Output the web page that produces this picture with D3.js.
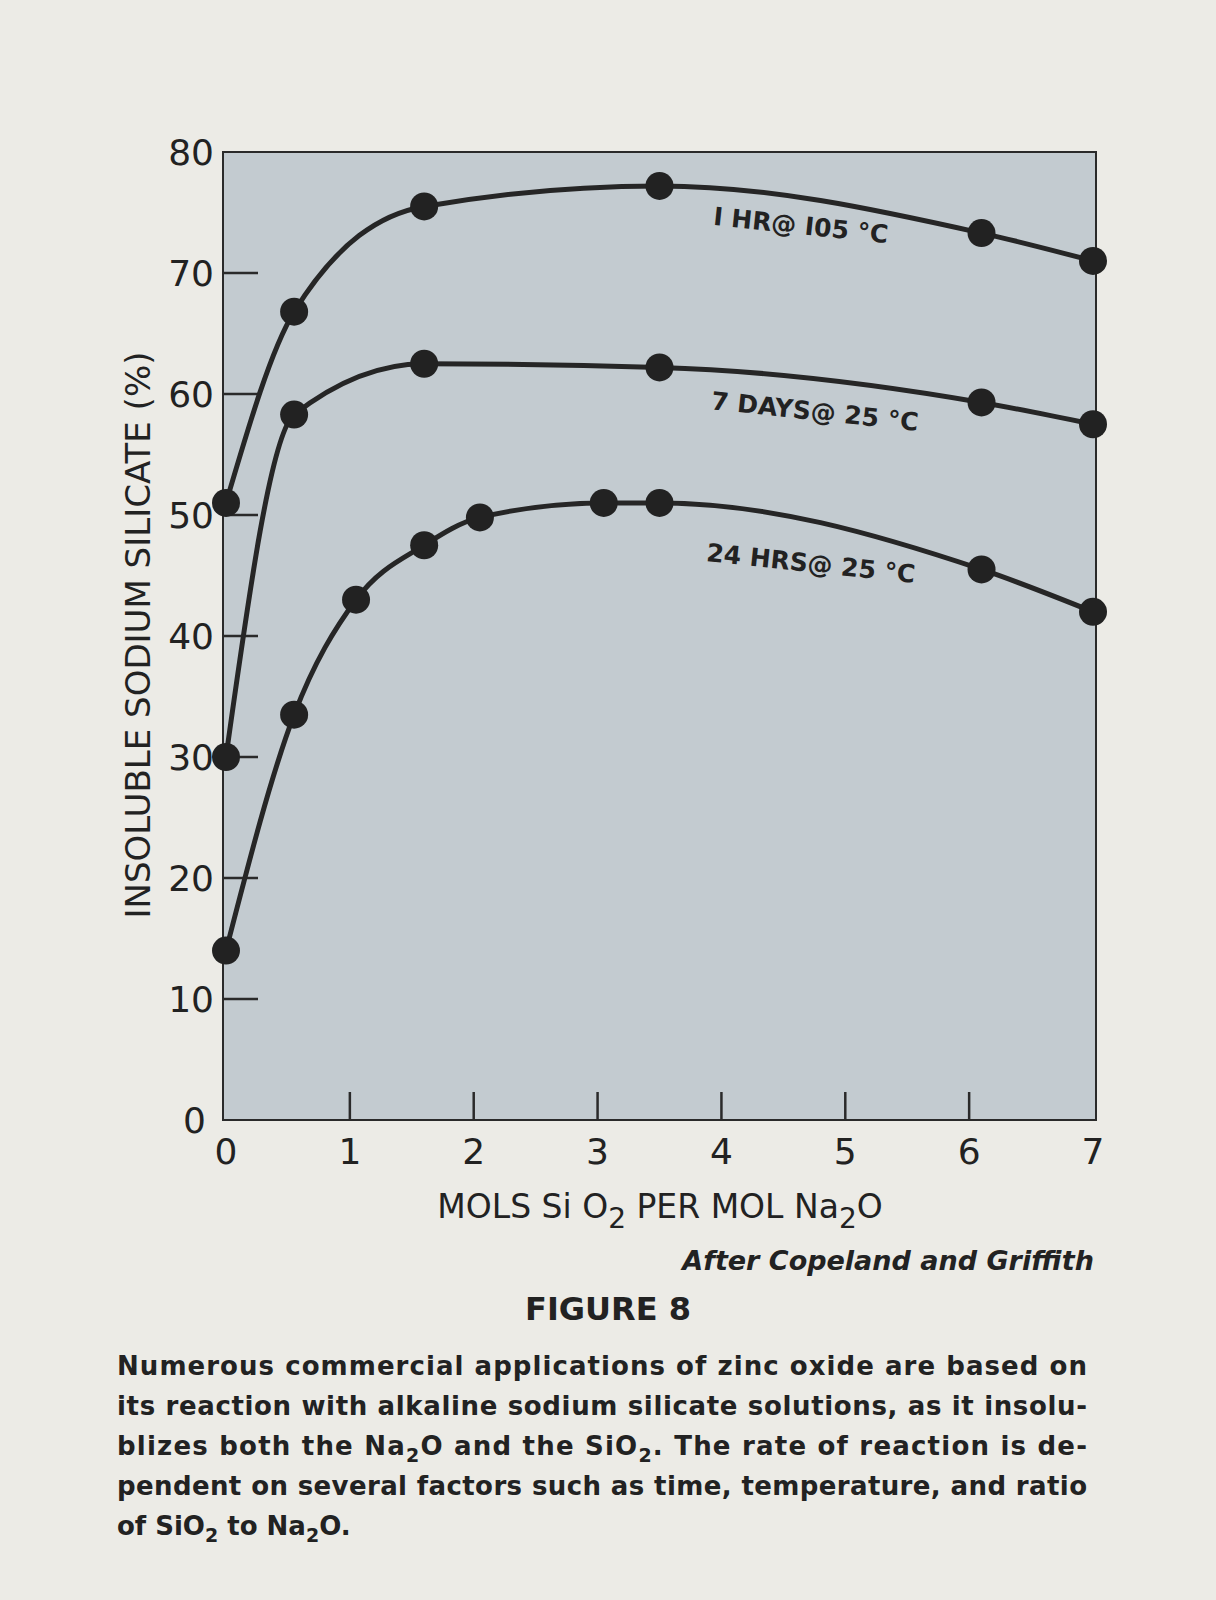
<!DOCTYPE html>
<html><head><meta charset="utf-8">
<script src="https://cdn.jsdelivr.net/npm/d3@7"></script>
<style>
body{margin:0;background:#ecebe6;}
</style></head>
<body><svg id="c" width="1216" height="1600"></svg>
<script>
const xTicks = [0, 1, 2, 3, 4, 5, 6, 7];
const yTicks = [0, 10, 20, 30, 40, 50, 60, 70, 80];
const seriesNames = ['I HR@ I05 °C', '7 DAYS@ 25 °C', '24 HRS@ 25 °C'];
const hr1 = [[0, 51], [0.55, 66.8], [1.6, 75.5], [3.5, 77.2], [6.1, 73.3], [7, 71]];
const days7 = [[0, 30], [0.55, 58.3], [1.6, 62.5], [3.5, 62.2], [6.1, 59.3], [7, 57.5]];
const hrs24 = [[0, 14], [0.55, 33.5], [1.05, 43], [1.6, 47.5], [2.05, 49.8], [3.05, 51], [3.5, 51], [6.1, 45.5], [7, 42]];

const svg = d3.select('#c');
const x = d3.scaleLinear().domain([0, 7]).range([226, 1093]);
const y = d3.scaleLinear().domain([0, 80]).range([1120, 152]);
const font = '"DejaVu Sans", Lato, sans-serif';

svg.append('rect').attr('x', x(0) - 3).attr('y', y(80))
    .attr('width', x(7) - x(0) + 6).attr('height', y(0) - y(80))
    .attr('fill', '#c3cbd0').attr('stroke', '#2a2a2a').attr('stroke-width', 2);

svg.selectAll('.yt').data(yTicks.filter(d => d > 0 && d < 80)).enter().append('line')
    .attr('x1', x(0) - 3).attr('x2', x(0) + 32).attr('y1', d => y(d)).attr('y2', d => y(d))
    .attr('stroke', '#2a2a2a').attr('stroke-width', 2.5);
svg.selectAll('.xt').data(xTicks.filter(d => d > 0 && d < 7)).enter().append('line')
    .attr('x1', d => x(d)).attr('x2', d => x(d)).attr('y1', y(0)).attr('y2', y(0) - 28)
    .attr('stroke', '#2a2a2a').attr('stroke-width', 2.5);

svg.selectAll('.yl').data(yTicks).enter().append('text')
    .attr('x', d => d == 0 ? 206 : 214).attr('y', d => y(d) + 13)
    .attr('text-anchor', 'end').attr('font-family', font).attr('font-size', 36)
    .attr('fill', '#222').text(d => d);
svg.selectAll('.xl').data(xTicks).enter().append('text')
    .attr('x', d => x(d)).attr('y', 1164)
    .attr('text-anchor', 'middle').attr('font-family', font).attr('font-size', 36)
    .attr('fill', '#222').text(d => d);

svg.append('text').attr('transform', 'translate(150,635) rotate(-90)')
    .attr('text-anchor', 'middle').attr('font-family', font).attr('font-size', 34)
    .attr('fill', '#222').text('INSOLUBLE SODIUM SILICATE (%)');
const xt = svg.append('text').attr('x', 660).attr('y', 1218).attr('text-anchor', 'middle')
    .attr('font-family', font).attr('font-size', 33).attr('fill', '#222');
xt.append('tspan').text('MOLS  Si O');
xt.append('tspan').attr('dy', 10).attr('font-size', 28).text('2');
xt.append('tspan').attr('dy', -10).text('  PER  MOL  Na');
xt.append('tspan').attr('dy', 10).attr('font-size', 28).text('2');
xt.append('tspan').attr('dy', -10).text('O');

const line = d3.line().x(d => x(d[0])).y(d => y(d[1])).curve(d3.curveMonotoneX);
[hr1, days7, hrs24].forEach(s => {
  svg.append('path').attr('d', line(s)).attr('fill', 'none')
      .attr('stroke', '#262626').attr('stroke-width', 5);
  svg.selectAll(null).data(s).enter().append('circle')
      .attr('cx', d => x(d[0])).attr('cy', d => y(d[1])).attr('r', 14)
      .attr('fill', '#222');
});

const labelPos = [[800, 234], [814, 420], [810, 572]];
seriesNames.forEach((n, i) => {
  svg.append('text').attr('transform', `translate(${labelPos[i][0]},${labelPos[i][1]}) rotate(6)`)
      .attr('text-anchor', 'middle').attr('font-family', font).attr('font-weight', 'bold')
      .attr('font-size', 25).attr('fill', '#222').text(n);
});

svg.append('text').attr('x', 1094).attr('y', 1270).attr('text-anchor', 'end')
    .attr('font-family', font).attr('font-style', 'italic').attr('font-weight', 'bold')
    .attr('font-size', 27).attr('fill', '#222').text('After Copeland and Griffith');
svg.append('text').attr('x', 608).attr('y', 1320).attr('text-anchor', 'middle')
    .attr('font-family', font).attr('font-weight', 'bold').attr('font-size', 32)
    .attr('fill', '#222').text('FIGURE  8');

const para = [
  ['Numerous commercial applications of zinc oxide are based on'],
  ['its reaction with alkaline sodium silicate solutions, as it insolu-'],
  ['blizes both the Na', '2', 'O and the SiO', '2', '. The rate of reaction is de-'],
  ['pendent on several factors such as time, temperature, and ratio'],
  ['of SiO', '2', ' to Na', '2', 'O.']
];
para.forEach((parts, i) => {
  const t = svg.append('text').attr('x', 117).attr('y', 1375 + i * 40)
      .attr('font-family', font).attr('font-weight', 'bold').attr('font-size', 26)
      .attr('fill', '#222');
  if (i < 4) t.attr('textLength', 970).attr('lengthAdjust', 'spacing');
  parts.forEach((p, j) => {
    if (j % 2 == 1) t.append('tspan').attr('dy', 7).attr('font-size', 19).text(p);
    else t.append('tspan').attr('dy', j == 0 ? 0 : -7).text(p);
  });
});
</script></body></html>
